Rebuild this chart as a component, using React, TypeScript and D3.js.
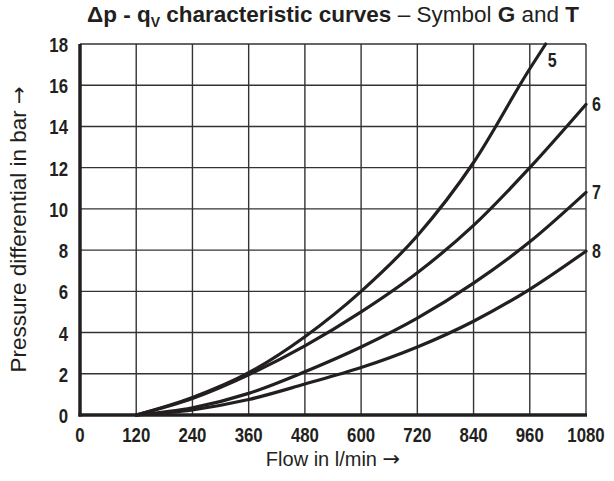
import * as d3 from "d3";
import React, { useEffect, useRef } from "react";

const flows = [120, 240, 360, 480, 600, 720, 840, 960, 1080];

// pressure differential in bar, one list per curve
const curve5 = [0, 0.85, 2.05, 3.8, 6.0, 8.7, 12.25, 16.8];
const curve5End = { q: 994, p: 18 };
const curve6 = [0, 0.8, 1.95, 3.35, 5.0, 6.9, 9.2, 12.0, 15.07];
const curve7 = [0, 0.35, 1.05, 2.1, 3.3, 4.7, 6.4, 8.4, 10.8];
const curve8 = [0, 0.25, 0.75, 1.5, 2.3, 3.3, 4.55, 6.1, 7.95];

const curveLabels = ["5", "6", "7", "8"];

const xTicks = [0, 120, 240, 360, 480, 600, 720, 840, 960, 1080];
const yTicks = [0, 2, 4, 6, 8, 10, 12, 14, 16, 18];

const INK = "#231f20";
const SANS = "'Liberation Sans', Arial, Helvetica, sans-serif";
const ARROW = "'DejaVu Sans', sans-serif";
const SQUEEZE = 0.8; // the original uses a condensed bold face for numbers

export default function App() {
  const svgRef = useRef<SVGSVGElement | null>(null);

  useEffect(() => {
    const svg = d3.select(svgRef.current);
    svg.selectAll("*").remove();

    const width = 614, height = 481;
    const margin = { top: 44, right: 28, bottom: 66, left: 80 };
    const w = width - margin.left - margin.right;
    const h = height - margin.top - margin.bottom;

    const x = d3.scaleLinear().domain([0, 1080]).range([0, w]);
    const y = d3.scaleLinear().domain([0, 18]).range([h, 0]);

    const root = svg.append("g").attr("transform", `translate(${margin.left},${margin.top})`);

    // grid
    root.append("g")
      .selectAll("line")
      .data(xTicks.slice(1))
      .join("line")
      .attr("x1", d => x(d)).attr("x2", d => x(d))
      .attr("y1", 0).attr("y2", h)
      .attr("stroke", "#333").attr("stroke-width", 1.4);
    root.append("g")
      .selectAll("line")
      .data(yTicks.slice(1))
      .join("line")
      .attr("x1", 0).attr("x2", w)
      .attr("y1", d => y(d)).attr("y2", d => y(d))
      .attr("stroke", "#333").attr("stroke-width", 1.4);

    // curves
    const series = [
      [...flows.slice(0, curve5.length).map((q, i) => ({ q, p: curve5[i] })), curve5End],
      flows.map((q, i) => ({ q, p: curve6[i] })),
      flows.map((q, i) => ({ q, p: curve7[i] })),
      flows.map((q, i) => ({ q, p: curve8[i] })),
    ];
    const line = d3.line<{ q: number; p: number }>()
      .x(d => x(d.q))
      .y(d => y(d.p))
      .curve(d3.curveMonotoneX);

    root.append("g")
      .selectAll("path")
      .data(series)
      .join("path")
      .attr("d", d => line(d))
      .attr("fill", "none")
      .attr("stroke", INK)
      .attr("stroke-width", 3.2)
      .attr("stroke-linecap", "round");

    // curve labels at the end of each curve
    root.append("g")
      .selectAll("text")
      .data(series)
      .join("text")
      .attr("transform", (d, i) => {
        const e = d[d.length - 1];
        return `translate(${x(e.q) + (i === 0 ? 2 : 6)},${y(e.p) + (i === 0 ? 23 : 7)}) scale(${SQUEEZE},1)`;
      })
      .attr("font-family", SANS)
      .attr("font-weight", 700)
      .attr("font-size", 20)
      .attr("fill", INK)
      .text((_, i) => curveLabels[i]);

    // axis lines (left + bottom heavy)
    root.append("line")
      .attr("x1", 0).attr("x2", 0).attr("y1", 0).attr("y2", h + 1.5)
      .attr("stroke", INK).attr("stroke-width", 3.5);
    root.append("line")
      .attr("x1", -1.5).attr("x2", w + 1).attr("y1", h).attr("y2", h)
      .attr("stroke", INK).attr("stroke-width", 3.5);

    // tick labels
    root.append("g")
      .selectAll("text")
      .data(yTicks)
      .join("text")
      .attr("transform", d => `translate(-12,${y(d) + 8}) scale(${SQUEEZE},1)`)
      .attr("text-anchor", "end")
      .attr("font-family", SANS)
      .attr("font-weight", 700)
      .attr("font-size", 21)
      .attr("fill", INK)
      .text(d => d);

    root.append("g")
      .selectAll("text")
      .data(xTicks)
      .join("text")
      .attr("transform", d => `translate(${x(d)},${h + 27}) scale(${SQUEEZE},1)`)
      .attr("text-anchor", "middle")
      .attr("font-family", SANS)
      .attr("font-weight", 700)
      .attr("font-size", 21)
      .attr("fill", INK)
      .text(d => d);

    // axis titles
    const xt = root.append("text")
      .attr("x", w / 2)
      .attr("y", h + 51)
      .attr("text-anchor", "middle")
      .attr("font-family", SANS)
      .attr("font-size", 20)
      .attr("fill", INK);
    xt.append("tspan").text("Flow in l/min ");
    xt.append("tspan").attr("font-family", ARROW).attr("font-size", 21).text("→");

    const yt = root.append("text")
      .attr("transform", `translate(${-54},${h / 2}) rotate(-90)`)
      .attr("text-anchor", "middle")
      .attr("font-family", SANS)
      .attr("font-size", 22.5)
      .attr("fill", INK);
    yt.append("tspan").text("Pressure differential in bar ");
    yt.append("tspan").attr("font-family", ARROW).attr("font-size", 21).text("→");

    // title
    const title = svg.append("text")
      .attr("x", margin.left + w / 2)
      .attr("y", 22)
      .attr("text-anchor", "middle")
      .attr("font-family", SANS)
      .attr("font-size", 22.5)
      .attr("fill", INK);
    title.append("tspan").attr("font-weight", 700).text("Δp - q");
    title.append("tspan").attr("font-weight", 700).attr("font-size", 14).attr("dy", 5).text("V");
    title.append("tspan").attr("font-weight", 700).attr("dy", -5).text(" characteristic curves");
    title.append("tspan").text(" – Symbol ");
    title.append("tspan").attr("font-weight", 700).text("G");
    title.append("tspan").text(" and ");
    title.append("tspan").attr("font-weight", 700).text("T");
  }, []);

  return (
    <svg
      ref={svgRef}
      width={614}
      height={481}
      style={{ position: "absolute", left: 0, top: 0, background: "#fff" }}
    />
  );
}
